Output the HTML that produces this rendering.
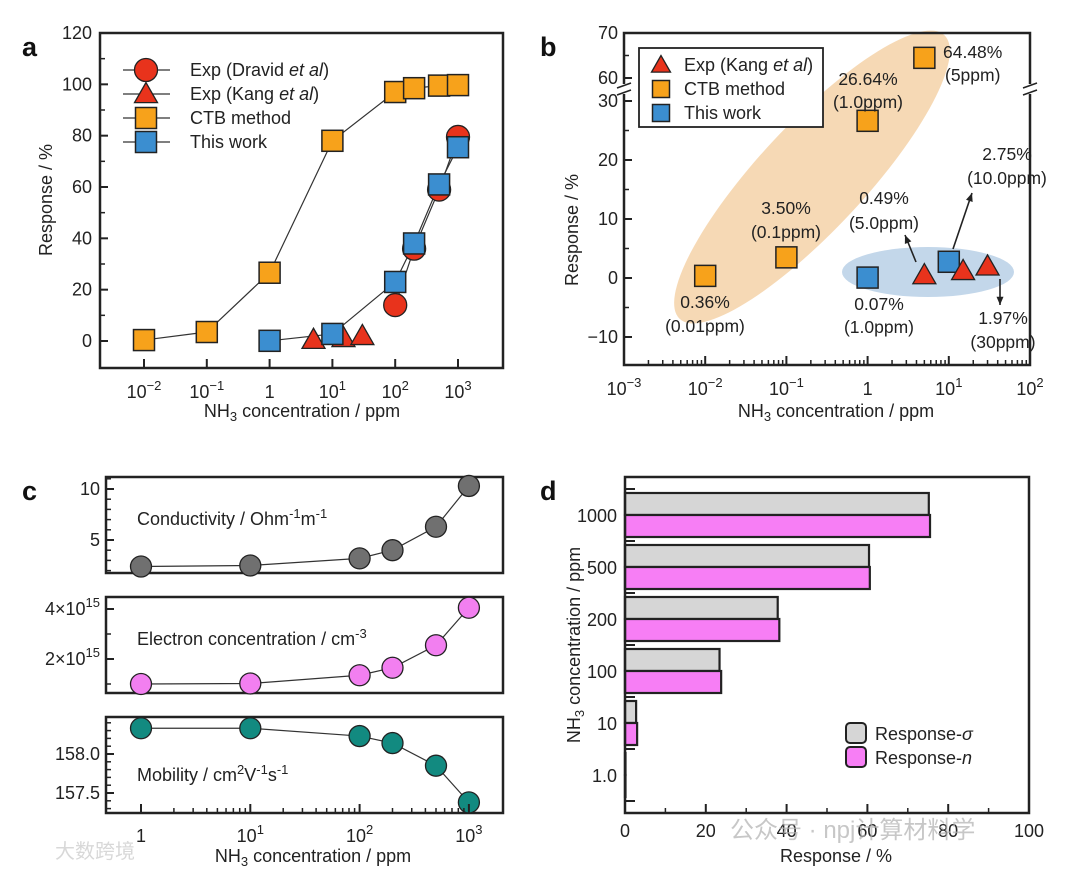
<!DOCTYPE html>
<html><head><meta charset="utf-8">
<style>
html,body{margin:0;padding:0;background:#fff;}
svg{display:block;font-family:"Liberation Sans","Noto Sans CJK SC",sans-serif;}
</style></head>
<body>
<svg id="fig" width="1080" height="871" viewBox="0 0 1080 871" xmlns="http://www.w3.org/2000/svg"></svg>
<script>
// ---------- Panel a data ----------
const aCtbX=[0.01,0.1,1,10,100,200,500,1000];
const aCtbY=[0.36,3.5,26.6,78,97,98.5,99.5,99.7];
const aWorkX=[1,10,100,200,500,1000];
const aWorkY=[0.07,2.75,23,38,61,75.5];
const aDravidX=[100,200,500,1000];
const aDravidY=[14,36,59,79.5];
const aKangX=[5,15,30];
const aKangY=[0.49,1.2,1.97];
const aYTicks=[0,20,40,60,80,100,120];
// ---------- Panel b data ----------
const bCtbX=[0.01,0.1,1,5];
const bCtbY=[0.36,3.5,26.64,64.48];
const bWorkX=[1,10];
const bWorkY=[0.07,2.75];
const bKangX=[5,15,30];
const bKangY=[0.49,1.2,1.97];
const bYTicksLow=[-10,0,10,20,30];
const bYTicksHigh=[60,70];
// ---------- Panel c data ----------
const cX=[1,10,100,200,500,1000];
const cCond=[2.4,2.5,3.2,4.0,6.3,10.3];
const cElec=[1.0,1.02,1.35,1.65,2.55,4.05]; // x1e15
const cMob=[158.33,158.33,158.23,158.14,157.85,157.38];
// ---------- Panel d data ----------
const dCats=["1000","500","200","100","10","1.0"];
const dSigma=[75.2,60.4,37.8,23.4,2.75,0.07];
const dN=[75.5,60.6,38.2,23.8,3.0,0.07];
const dXTicks=[0,20,40,60,80,100];

const NS="http://www.w3.org/2000/svg";
const svg=document.getElementById('fig');
function el(tag,attrs,parent,text){const e=document.createElementNS(NS,tag);for(const k in attrs)e.setAttribute(k,attrs[k]);if(text!==undefined)e.textContent=text;(parent||svg).appendChild(e);return e;}
function grp(name){const g=el('g',{});return g;}
function txt(g,x,y,s,size,anchor,name,extra){const t=el('text',Object.assign({x:x,y:y,'font-size':size,'text-anchor':anchor||'start',fill:'#222'},extra||{}),g);t.innerHTML=s;return t;}
function sq(g,x,y,fill,name,s){s=s||10.5;const r=el('rect',{x:x-s,y:y-s,width:2*s,height:2*s,fill:fill,stroke:'#222','stroke-width':1.5},g);return r;}
function circ(g,x,y,fill,name,r){const c=el('circle',{cx:x,cy:y,r:r||11.5,fill:fill,stroke:'#222','stroke-width':1.3},g);return c;}
function tri(g,x,y,fill,name,s){s=s||11.5;const p=el('polygon',{points:`${x},${y-s} ${x-s},${y+s*0.75} ${x+s},${y+s*0.75}`,fill:fill,stroke:'#222','stroke-width':1.3},g);return p;}
function line(g,xs,ys,fx,fy,name){const pts=xs.map((x,i)=>fx(x)+','+fy(ys[i])).join(' ');const p=el('polyline',{points:pts,fill:'none',stroke:'#333','stroke-width':1.2},g);}
function logTicks(g,fx,y0,lo,hi,dir,minor){for(let d=lo;d<=hi;d++){for(let m=1;m<10;m++){const v=Math.pow(10,d)*m;const x=fx(v);if(m===1){el('line',{x1:x,x2:x,y1:y0,y2:y0+dir*9,stroke:'#222','stroke-width':2},g);}else if(minor&&d<hi){el('line',{x1:x,x2:x,y1:y0,y2:y0+dir*5,stroke:'#222','stroke-width':1.5},g);}}}}
function supTxt(base,exp){return base+'<tspan dy="-8" font-size="13">'+exp+'</tspan>';}
const FS=18;

// ================= PANEL A =================
(function(){
const g=grp('panel-a');
const L=100,R=503,T=33,B=368;
const fx=v=>144+(Math.log10(v)+2)*62.8;
const fy=v=>341-v*(308/120);
txt(g,22,56,'a',27,'start','panel-a-label',{'font-weight':'bold',fill:'#111'});
el('rect',{x:L,y:T,width:R-L,height:B-T,fill:'none',stroke:'#222','stroke-width':2.5},g);
aYTicks.forEach(v=>{const y=fy(v);el('line',{x1:L,x2:L+8,y1:y,y2:y,stroke:'#222','stroke-width':2},g);if(v<120)el('line',{x1:L,x2:L+5,y1:fy(v+10),y2:fy(v+10),stroke:'#222','stroke-width':1.5},g);txt(g,L-8,y+6,v,FS,'end','y-tick-label');});
[-2,-1,0,1,2,3].forEach(d=>{const x=fx(Math.pow(10,d));el('line',{x1:x,x2:x,y1:B,y2:B-9,stroke:'#222','stroke-width':2},g);txt(g,x,B+30,d===0?'1':supTxt('10',d<0?'−'+(-d):d),FS,'middle','x-tick-label');});
txt(g,302,417,'NH<tspan dy="4" font-size="13">3</tspan><tspan dy="-4"> concentration / ppm</tspan>',FS,'middle','x-axis-title');
txt(g,0,0,'Response / %',FS,'middle','y-axis-title',{transform:'translate(52,200) rotate(-90)'});
line(g,aCtbX,aCtbY,fx,fy,'ctb-line');
line(g,aDravidX,aDravidY,fx,fy,'dravid-line');
line(g,aWorkX,aWorkY,fx,fy,'this-work-line');
aCtbX.forEach((x,i)=>sq(g,fx(x),fy(aCtbY[i]),'#f7a21b','ctb-point'));
aKangX.forEach((x,i)=>tri(g,fx(x),fy(aKangY[i]),'#e8331c','kang-point'));
aDravidX.forEach((x,i)=>circ(g,fx(x),fy(aDravidY[i]),'#e8331c','dravid-point'));
aWorkX.forEach((x,i)=>sq(g,fx(x),fy(aWorkY[i]),'#3b8ed0','this-work-point'));
const lg=grp('legend-a');g.appendChild(lg);
const items=[['Exp (Dravid <tspan font-style="italic">et al</tspan>)','c','#e8331c'],['Exp (Kang <tspan font-style="italic">et al</tspan>)','t','#e8331c'],['CTB method','s','#f7a21b'],['This work','s','#3b8ed0']];
items.forEach((it,i)=>{const y=70+i*24;el('line',{x1:123,x2:170,y1:y,y2:y,stroke:'#333','stroke-width':1.2},lg);if(it[1]==='c')circ(lg,146,y,it[2],'legend-marker');else if(it[1]==='t')tri(lg,146,y,it[2],'legend-marker');else sq(lg,146,y,it[2],'legend-marker');txt(lg,190,y+6,it[0],FS,'start','legend-entry');});
})();

// ================= PANEL B =================
(function(){
const g=grp('panel-b');
const L=624,R=1030,T=33,B=365;
const fx=v=>624+(Math.log10(v)+3)*81.2;
const fy=v=>v>=45?78-(v-60)*4.5:278-v*5.9;
txt(g,540,56,'b',27,'start','panel-b-label',{'font-weight':'bold',fill:'#111'});
el('ellipse',{cx:812,cy:177,rx:194,ry:53,fill:'#f5d2a8',opacity:0.85,transform:'rotate(-47 812 177)'},g);
el('ellipse',{cx:928,cy:272,rx:86,ry:25,fill:'#bcd3e8',opacity:0.9},g);
el('rect',{x:L,y:T,width:R-L,height:B-T,fill:'none',stroke:'#222','stroke-width':2.5},g);
el('rect',{x:L-6,y:84,width:12,height:10,fill:'#fff'},g);el('rect',{x:R-6,y:84,width:12,height:10,fill:'#fff'},g);
[L,R].forEach(x=>{el('line',{x1:x-7,x2:x+7,y1:88,y2:83,stroke:'#222','stroke-width':1.5},g);el('line',{x1:x-7,x2:x+7,y1:95,y2:90,stroke:'#222','stroke-width':1.5},g);});
bYTicksLow.forEach(v=>{const y=fy(v);el('line',{x1:L,x2:L+8,y1:y,y2:y,stroke:'#222','stroke-width':2},g);if(v<30)el('line',{x1:L,x2:L+5,y1:fy(v+5),y2:fy(v+5),stroke:'#222','stroke-width':1.5},g);txt(g,L-6,y+6,v<0?'−'+(-v):v,FS,'end','y-tick-label');});
bYTicksHigh.forEach(v=>{const y=fy(v);el('line',{x1:L,x2:L+8,y1:y,y2:y,stroke:'#222','stroke-width':2},g);txt(g,L-6,y+6,v,FS,'end','y-tick-label');});
el('line',{x1:L,x2:L+5,y1:fy(65),y2:fy(65),stroke:'#222','stroke-width':1.5},g);
logTicks(g,fx,B,-3,2,-1,true);
[-3,-2,-1,0,1,2].forEach(d=>{const x=fx(Math.pow(10,d));txt(g,x,B+30,d===0?'1':supTxt('10',d<0?'−'+(-d):d),FS,'middle','x-tick-label');});
txt(g,836,417,'NH<tspan dy="4" font-size="13">3</tspan><tspan dy="-4"> concentration / ppm</tspan>',FS,'middle','x-axis-title');
txt(g,0,0,'Response / %',FS,'middle','y-axis-title',{transform:'translate(578,230) rotate(-90)'});
bCtbX.forEach((x,i)=>sq(g,fx(x),fy(bCtbY[i]),'#f7a21b','ctb-point'));
bWorkX.forEach((x,i)=>sq(g,fx(x),fy(bWorkY[i]),'#3b8ed0','this-work-point'));
bKangX.forEach((x,i)=>tri(g,fx(x),fy(bKangY[i]),'#e8331c','kang-point'));
const ann=[[943,58,'64.48%','start'],[945,81,'(5ppm)','start'],[868,85,'26.64%','middle'],[868,108,'(1.0ppm)','middle'],[786,214,'3.50%','middle'],[786,238,'(0.1ppm)','middle'],[705,308,'0.36%','middle'],[705,332,'(0.01ppm)','middle'],[884,204,'0.49%','middle'],[884,229,'(5.0ppm)','middle'],[1007,160,'2.75%','middle'],[1007,184,'(10.0ppm)','middle'],[879,310,'0.07%','middle'],[879,333,'(1.0ppm)','middle'],[1003,324,'1.97%','middle'],[1003,348,'(30ppm)','middle']];
ann.forEach(a=>txt(g,a[0],a[1],a[2],17.5,a[3],'annotation-label'));
function arrow(x1,y1,x2,y2){el('line',{x1:x1,y1:y1,x2:x2,y2:y2,stroke:'#222','stroke-width':1.6},g);const ang=Math.atan2(y2-y1,x2-x1),s=9;el('polygon',{points:`${x2},${y2} ${x2-s*Math.cos(ang-0.4)},${y2-s*Math.sin(ang-0.4)} ${x2-s*Math.cos(ang+0.4)},${y2-s*Math.sin(ang+0.4)}`,fill:'#222'},g);}
arrow(916,262,905,235);arrow(953,249,972,193);arrow(1000,279,1000,305);
const lg=grp('legend-b');g.appendChild(lg);
el('rect',{x:639,y:48,width:184,height:79,fill:'#fff',stroke:'#222','stroke-width':1.8},lg);
tri(lg,661,65,'#e8331c','legend-marker',9.5);sq(lg,661,89,'#f7a21b','legend-marker',8.5);sq(lg,661,113,'#3b8ed0','legend-marker',8.5);
txt(lg,684,71,'Exp (Kang <tspan font-style="italic">et al</tspan>)',FS,'start','legend-entry');
txt(lg,684,95,'CTB method',FS,'start','legend-entry');
txt(lg,684,119,'This work',FS,'start','legend-entry');
})();

// ================= PANEL C =================
(function(){
const g=grp('panel-c');
const L=106,R=503;
const fx=v=>141+Math.log10(v)*109.3;
txt(g,22,500,'c',27,'start','panel-c-label',{'font-weight':'bold',fill:'#111'});
const subs=[
 {T:477,B:573,vals:cCond,fy:v=>540-(v-5)*10.2,ticks:[5,10],tl:['5','10'],minor:[2,3,4,6,7,8,9,11],fill:'#707070',label:'Conductivity / Ohm<tspan dy="-7" font-size="13">-1</tspan><tspan dy="7">m</tspan><tspan dy="-7" font-size="13">-1</tspan>',name:'conductivity'},
 {T:597,B:693,vals:cElec,fy:v=>659-(v-2)*25,ticks:[2,4],tl:['2×10<tspan dy="-8" font-size="13">15</tspan>','4×10<tspan dy="-8" font-size="13">15</tspan>'],minor:[1,3],fill:'#f27ff0',label:'Electron concentration / cm<tspan dy="-7" font-size="13">-3</tspan>',name:'electron-concentration'},
 {T:717,B:813,vals:cMob,fy:v=>754-(v-158)*78,ticks:[157.5,158],tl:['157.5','158.0'],minor:[157.3,157.4,157.6,157.7,157.8,157.9,158.1,158.2,158.3,158.4],fill:'#128a80',label:'Mobility / cm<tspan dy="-7" font-size="13">2</tspan><tspan dy="7">V</tspan><tspan dy="-7" font-size="13">-1</tspan><tspan dy="7">s</tspan><tspan dy="-7" font-size="13">-1</tspan>',name:'mobility'}
];
subs.forEach((s,k)=>{
 const sg=grp('subplot-'+s.name);g.appendChild(sg);
 el('rect',{x:L,y:s.T,width:R-L,height:s.B-s.T,fill:'none',stroke:'#222','stroke-width':2.5},sg);
 s.ticks.forEach((v,i)=>{const y=s.fy(v);el('line',{x1:L,x2:L+8,y1:y,y2:y,stroke:'#222','stroke-width':2},sg);txt(sg,L-6,y+6,s.tl[i],FS,'end','y-tick-label');});
 s.minor.forEach(v=>{const y=s.fy(v);if(y>s.T&&y<s.B)el('line',{x1:L,x2:L+5,y1:y,y2:y,stroke:'#222','stroke-width':1.5},sg);});
 txt(sg,137,s.T+(k===2?64:48),s.label,FS,'start','subplot-label');
 line(sg,cX,s.vals,fx,s.fy,s.name+'-line');
 cX.forEach((x,i)=>circ(sg,fx(x),s.fy(s.vals[i]),s.fill,s.name+'-point',10.5));
});
logTicks(g,fx,813,0,3,-1,true);
[0,1,2,3].forEach(d=>txt(g,fx(Math.pow(10,d)),842,d===0?'1':supTxt('10',d),FS,'middle','x-tick-label'));
txt(g,313,862,'NH<tspan dy="4" font-size="13">3</tspan><tspan dy="-4"> concentration / ppm</tspan>',FS,'middle','x-axis-title');
txt(g,55,858,'大数跨境',20,'start','watermark',{fill:'#d8d8d8'});
})();

// ================= PANEL D =================
(function(){
const g=grp('panel-d');
const L=625,R=1029,T=477,B=813;
const fx=v=>L+v*4.04;
const cy=i=>515+i*52;
txt(g,540,500,'d',27,'start','panel-d-label',{'font-weight':'bold',fill:'#111'});
dCats.forEach((c,i)=>{
 const y=cy(i);
 const b1=el('rect',{x:L,y:y-22,width:Math.max(fx(dSigma[i])-L,0.5),height:22,fill:'#d6d6d6',stroke:'#222','stroke-width':2.2},g);
 
 const b2=el('rect',{x:L,y:y,width:Math.max(fx(dN[i])-L,0.5),height:22,fill:'#f77ef5',stroke:'#222','stroke-width':2.2},g);
 
 txt(g,L-8,y+7,c,FS,'end','y-tick-label');
 el('line',{x1:L,x2:L+10,y1:y-26,y2:y-26,stroke:'#222','stroke-width':2},g);
});
el('line',{x1:L,x2:L+10,y1:cy(5)+26,y2:cy(5)+26,stroke:'#222','stroke-width':2},g);
el('rect',{x:L,y:T,width:R-L,height:B-T,fill:'none',stroke:'#222','stroke-width':2.5},g);
dXTicks.forEach(v=>{const x=fx(v);el('line',{x1:x,x2:x,y1:B,y2:B-9,stroke:'#222','stroke-width':2},g);if(v<100)el('line',{x1:fx(v+10),x2:fx(v+10),y1:B,y2:B-5,stroke:'#222','stroke-width':1.5},g);txt(g,x,B+24,v,FS,'middle','x-tick-label');});
txt(g,836,862,'Response / %',FS,'middle','x-axis-title');
txt(g,0,0,'NH<tspan dy="4" font-size="13">3</tspan><tspan dy="-4"> concentration / ppm</tspan>',FS,'middle','y-axis-title',{transform:'translate(580,645) rotate(-90)'});
txt(g,730,838,'公众号 · npj计算材料学',24,'start','watermark',{fill:'#b0b0b0',opacity:0.7});
const lg=grp('legend-d');g.appendChild(lg);
el('rect',{x:846,y:723,width:20,height:20,rx:4,fill:'#d6d6d6',stroke:'#222','stroke-width':2},lg);
el('rect',{x:846,y:747,width:20,height:20,rx:4,fill:'#f77ef5',stroke:'#222','stroke-width':2},lg);
txt(lg,875,740,'Response-<tspan font-style="italic">σ</tspan>',FS,'start','legend-entry');
txt(lg,875,764,'Response-<tspan font-style="italic">n</tspan>',FS,'start','legend-entry');
})();
</script>
</body></html>
